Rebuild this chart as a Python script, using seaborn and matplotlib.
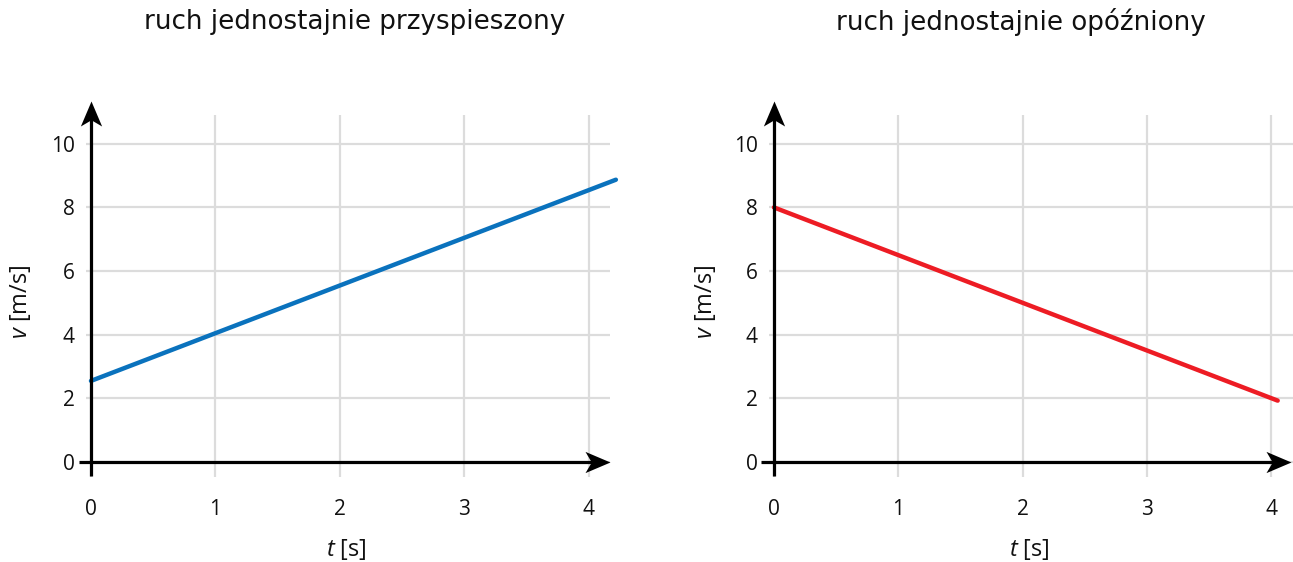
import matplotlib
matplotlib.use('Agg')
import matplotlib.pyplot as plt
import seaborn as sns
import pandas as pd
from matplotlib.path import Path

# --- data ---
titles = ['ruch jednostajnie przyspieszony', 'ruch jednostajnie opóźniony']
t_acc = [0.0, 4.22]
v_acc = [2.55, 8.87]
t_dec = [0.0, 4.05]
v_dec = [8.0, 1.93]
x_ticks = [0, 1, 2, 3, 4]
y_ticks = [0, 2, 4, 6, 8, 10]
colors = ['#0a72bd', '#ed1c24']

sns.set_theme(style='white')
plt.rcParams['font.family'] = ['Open Sans', 'DejaVu Sans']
plt.rcParams['mathtext.fontset'] = 'custom'
plt.rcParams['mathtext.it'] = 'Open Sans:italic'
plt.rcParams['mathtext.rm'] = 'Open Sans'

# stealth-like arrow heads with the tip at the marker origin
right_head = Path([(0, 0), (-2, 0.85), (-1.5, 0), (-2, -0.85), (0, 0)],
                  [Path.MOVETO, Path.LINETO, Path.LINETO, Path.LINETO, Path.CLOSEPOLY])
up_head = Path([(0, 0), (0.85, -2), (0, -1.5), (-0.85, -2), (0, 0)],
               [Path.MOVETO, Path.LINETO, Path.LINETO, Path.LINETO, Path.CLOSEPOLY])

fig = plt.figure(figsize=(12.93, 5.62), dpi=100)
ax1 = fig.add_axes([0.0665, 0.1512, 0.405, 0.644])
ax2 = fig.add_axes([0.5947, 0.1512, 0.405, 0.644])

panels = [
    (ax1, t_acc, v_acc, titles[0], colors[0], 4.17, 0.513, -0.126),
    (ax2, t_dec, v_dec, titles[1], colors[1], 4.16, 0.481, -0.122),
]

for ax, t, v, title, col, x_end, title_x, ylab_x in panels:
    df = pd.DataFrame({'t': t, 'v': v})
    ax.set_xlim(-0.04, 4.17)
    ax.set_ylim(-0.47, 10.9)
    for s in ax.spines.values():
        s.set_visible(False)
    ax.set_xticks(x_ticks)
    ax.set_yticks(y_ticks)
    ax.grid(True, color='#dcdcdc', lw=1.6)
    ax.tick_params(axis='both', length=0, labelsize=15, colors='#111111')
    ax.tick_params(axis='x', pad=16)
    ax.tick_params(axis='y', pad=8)

    sns.lineplot(data=df, x='t', y='v', ax=ax, color=col, lw=3.2,
                 solid_capstyle='round', clip_on=False, zorder=4)

    # axes with arrow heads
    y_end = 11.35
    ax.plot([-0.1, x_end - 0.1], [0, 0], color='black', lw=2.3,
            clip_on=False, zorder=5, solid_capstyle='butt')
    ax.plot([0, 0], [-0.45, y_end - 0.4], color='black', lw=2.3,
            clip_on=False, zorder=5, solid_capstyle='butt')
    ax.plot([x_end], [0], marker=right_head, markersize=36, color='black',
            markeredgewidth=0, clip_on=False, zorder=6)
    ax.plot([0], [y_end], marker=up_head, markersize=36, color='black',
            markeredgewidth=0, clip_on=False, zorder=6)

    ax.set_xlabel('$t$ [s]', fontsize=17, color='#111111')
    ax.set_ylabel('$v$ [m/s]', fontsize=17, color='#111111')
    ax.xaxis.set_label_coords(0.497, -0.199)
    ax.yaxis.set_label_coords(ylab_x, 0.483)
    ax.xaxis.label.set_va('center')
    ax.yaxis.label.set_va('center')
    ax.text(title_x, 1.257, title, transform=ax.transAxes, ha='center',
            va='center', fontsize=18.8, family=['DejaVu Sans'], color='#111111')

fig.savefig('out.png', dpi=100)
